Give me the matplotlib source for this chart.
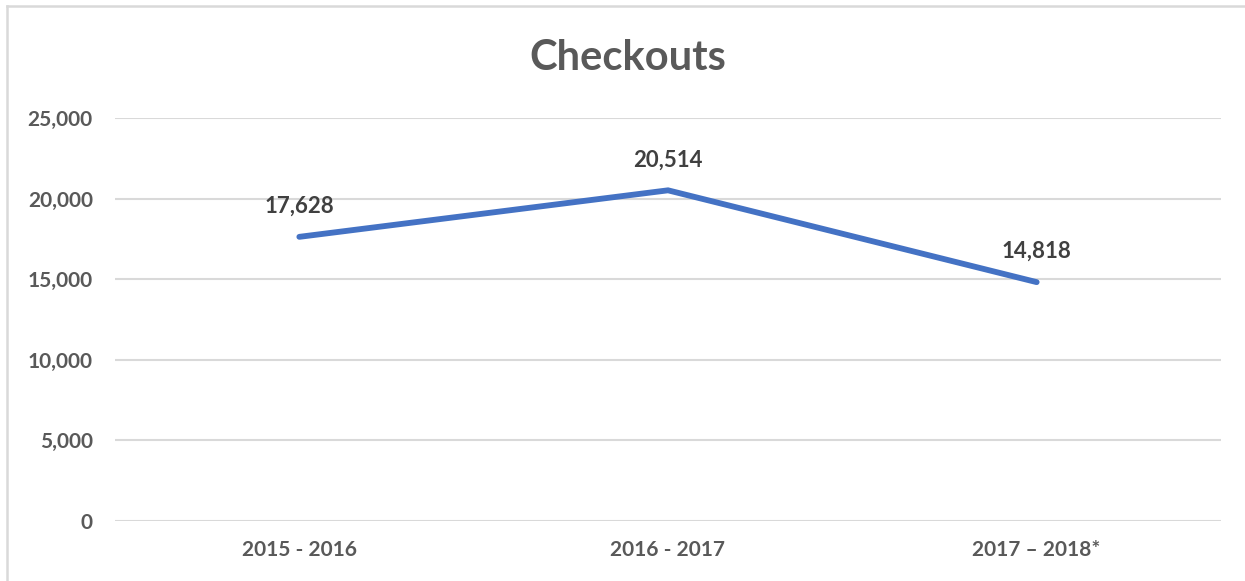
import matplotlib
matplotlib.use("Agg")
import matplotlib.pyplot as plt
from matplotlib.lines import Line2D
from matplotlib.ticker import FuncFormatter

categories = ["2015 - 2016", "2016 - 2017", "2017 \u2013 2018*"]
checkouts = [17628, 20514, 14818]
yticks = [0, 5000, 10000, 15000, 20000, 25000]

plt.rcParams['font.family'] = ['Lato', 'DejaVu Sans']

W, H = 1245, 581
fig = plt.figure(figsize=(W / 100, H / 100), dpi=100)
ax = fig.add_axes([115 / W, 1 - 521 / H, (1221 - 115) / W, (521 - 118) / H])

x = list(range(len(categories)))
ax.plot(x, checkouts, color="#4472C4", lw=4.2, solid_capstyle="round", solid_joinstyle="miter", zorder=3)

for xi, v in zip(x, checkouts):
    ax.annotate(f"{v:,}", (xi, v), xytext=(0, 22), textcoords="offset points",
                ha="center", va="center", fontsize=16, fontweight="bold", color="#404040")

ax.set_xlim(-0.5, len(categories) - 0.5)
ax.set_ylim(0, 25000)
ax.set_yticks(yticks)
ax.yaxis.set_major_formatter(FuncFormatter(lambda v, p: f"{int(v):,}"))
ax.set_xticks(x)
ax.set_xticklabels(categories)
ax.grid(axis="y", color="#D9D9D9", lw=1.5)
ax.set_axisbelow(True)
for s in ax.spines.values():
    s.set_visible(False)
ax.tick_params(axis="both", length=0, labelsize=15, labelcolor="#595959")
ax.tick_params(axis="y", pad=16)
ax.tick_params(axis="x", pad=14)
for lab in ax.get_xticklabels() + ax.get_yticklabels():
    lab.set_fontweight("bold")

fig.text(628 / W, 1 - 58 / H, "Checkouts", ha="center", va="center",
         fontsize=30, fontweight="bold", color="#595959")

# chart border (light gray)
fig.add_artist(Line2D([7 / W, 7 / W], [0, 1 - 6 / H], transform=fig.transFigure, color="#D9D9D9", lw=1.8))
fig.add_artist(Line2D([7 / W, 1], [1 - 6 / H, 1 - 6 / H], transform=fig.transFigure, color="#D9D9D9", lw=1.8))

fig.savefig("out.png", dpi=100)
